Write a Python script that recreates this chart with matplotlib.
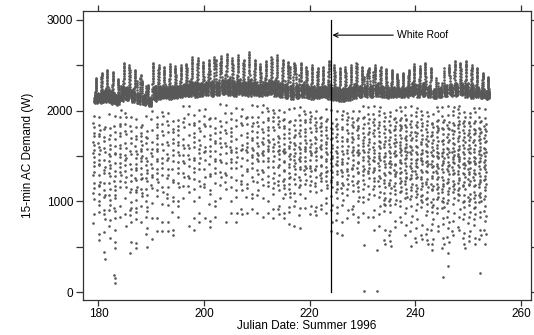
import numpy as np
import matplotlib.pyplot as plt

plt.rcParams['font.family'] = ['Liberation Sans', 'DejaVu Sans']

# Julian days plotted (15-min samples, 96 per day)
days = np.arange(179, 254)

# daily peak of the saturated band (W)
day_peak = [2360, 2420, 2450, 2430, 2350, 2530, 2500, 2450, 2390, 2330,
            2280, 2530, 2500, 2480, 2510, 2490, 2500, 2520, 2590, 2580,
            2540, 2560, 2590, 2560, 2600, 2630, 2580, 2610, 2560, 2650,
            2560, 2510, 2550, 2590, 2610, 2560, 2540, 2530, 2500, 2530,
            2480, 2500, 2470, 2480, 2550, 2500, 2470, 2480, 2500, 2530,
            2480, 2450, 2470, 2500, 2480, 2460, 2450, 2400, 2420, 2450,
            2510, 2490, 2530, 2470, 2400, 2420, 2480, 2500, 2550, 2530,
            2550, 2500, 2470, 2420, 2370]

# bottom edge of the saturated band (W)
day_base = [2080, 2080, 2090, 2070, 2060, 2100, 2110, 2090, 2070, 2060,
            2050, 2100, 2120, 2130, 2120, 2130, 2140, 2150, 2150, 2140,
            2150, 2160, 2150, 2160, 2170, 2160, 2150, 2170, 2160, 2150,
            2160, 2150, 2160, 2170, 2150, 2140, 2130, 2120, 2130, 2140,
            2130, 2120, 2130, 2140, 2120, 2110, 2100, 2100, 2110, 2130,
            2140, 2150, 2140, 2150, 2140, 2130, 2140, 2150, 2140, 2150,
            2160, 2140, 2150, 2140, 2130, 2140, 2150, 2160, 2150, 2160,
            2140, 2130, 2140, 2130, 2120]

# lowest demand of each day (W)
day_low = [700, 500, 280, 450, 150, 800, 700, 350, 400, 650,
           350, 550, 650, 600, 600, 550, 700, 800, 700, 650,
           700, 750, 650, 700, 800, 750, 850, 700, 800, 750,
           800, 850, 800, 850, 750, 800, 750, 620, 700, 680,
           900, 800, 780, 850, 750, 650, 620, 600, 750, 800,
           700, 750, 800, 650, 700, 500, 480, 650, 700, 600,
           480, 520, 550, 500, 380, 600, 450, 400, 600, 650,
           450, 480, 450, 550, 500]

# number of 15-min samples per day below the band
day_nlow = [20, 22, 20, 22, 22, 18, 18, 20, 22, 20,
            22, 16, 18, 16, 18, 16, 16, 14, 14, 16,
            16, 14, 16, 14, 14, 14, 16, 14, 16, 16,
            18, 18, 18, 20, 20, 22, 24, 24, 22, 24,
            22, 22, 24, 22, 24, 26, 26, 24, 22, 24,
            26, 24, 24, 26, 28, 30, 32, 30, 32, 34,
            32, 34, 32, 34, 36, 34, 36, 36, 34, 36,
            36, 38, 36, 38, 36]

# relative position of samples inside the band (afternoon spike grouped) and below it
band_frac = [0.05, 0.12, 0.20, 0.08, 0.30, 0.15, 0.25, 0.10, 0.22, 0.18, 0.28, 0.14,
             0.02, 0.22, 0.35, 0.12, 0.40, 0.28, 0.45, 0.16, 0.33, 0.07, 0.52, 0.24,
             0.60, 0.70, 0.78, 0.86, 0.92, 1.00, 0.96, 0.88, 0.82, 0.74, 0.66, 0.58,
             0.48, 0.38, 0.30, 0.22, 0.26, 0.13, 0.34, 0.19, 0.24, 0.06, 0.32, 0.27,
             0.11, 0.15, 0.36, 0.21, 0.09, 0.10, 0.34, 0.03, 0.17, 0.23, 0.29, 0.18,
             0.40, 0.12, 0.20, 0.29, 0.07, 0.08, 0.37, 0.25, 0.16, 0.14, 0.26, 0.31]
low_frac = [0.72, 0.45, 0.88, 0.30, 0.63, 0.05, 0.80, 0.52, 0.38, 0.94, 0.60, 0.25,
            0.70, 0.47, 0.85, 0.12, 0.56, 0.77, 0.34, 0.66, 0.91, 0.42, 0.58, 0.02,
            0.74, 0.50, 0.83, 0.29, 0.64, 0.40, 0.97, 0.55, 0.18, 0.69, 0.48, 0.79,
            0.36, 0.61, 0.87, 0.22, 0.53, 0.75, 0.44, 0.67, 0.09, 0.82, 0.59, 0.33]

# isolated readings
odd_x = [183.1, 183.2, 230.2, 232.8, 230.2, 232.8, 245.2, 246.1, 252.2]
odd_y = [100, 160, 10, 10, 520, 460, 165, 285, 210]

# change date (white roof applied)
roof_day = 224.05

# assemble the 15-min series day by day
t, w = [], []
for i, d in enumerate(days):
    n = day_nlow[i]
    lo = np.roll(low_frac, 7 * i)[:n]
    hi = np.roll(band_frac, 5 * i)[:96 - n]
    vals = np.concatenate([day_low[i] + lo * (day_base[i] - 60 - day_low[i]),
                           day_base[i] + hi * (day_peak[i] - day_base[i])])
    t.extend(d + np.arange(len(vals)) / len(vals))
    w.extend(vals)
t.extend(odd_x)
w.extend(odd_y)

fig = plt.figure(figsize=(5.34, 3.35), dpi=100)
ax = fig.add_axes([0.1554, 0.1045, 0.8390, 0.8618])

ax.plot(t, w, 'o', color='#585858', ms=1.9, mew=0)

ax.plot([roof_day, roof_day], [0, 3000], color='black', lw=0.9)
ax.annotate('White Roof', xy=(roof_day + 0.25, 2833), xytext=(236.6, 2833),
            fontsize=7.5, va='center', ha='left',
            arrowprops=dict(arrowstyle='->', lw=0.8, color='black',
                            shrinkA=1, shrinkB=0, mutation_scale=8))

ax.set_xlim(177.07, 261.9)
ax.set_ylim(-88, 3096)
ax.set_xticks([180, 200, 220, 240, 260])
ax.set_yticks([0, 1000, 2000, 3000])
ax.set_yticks([500, 1500, 2500], minor=True)
ax.tick_params(axis='both', which='both', direction='out', labelsize=8.5,
               color='#333333', width=0.9)
ax.tick_params(axis='y', which='both', length=5, pad=2, right=True)
ax.tick_params(axis='x', which='both', length=4.5, pad=1.5, top=True)
for s in ax.spines.values():
    s.set_color('#333333')
    s.set_linewidth(0.9)

ax.set_xlabel('Julian Date: Summer 1996', fontsize=8.5, labelpad=0)
ax.set_ylabel('15-min AC Demand (W)', fontsize=8.5, labelpad=9)

fig.savefig('out.png', dpi=100)
